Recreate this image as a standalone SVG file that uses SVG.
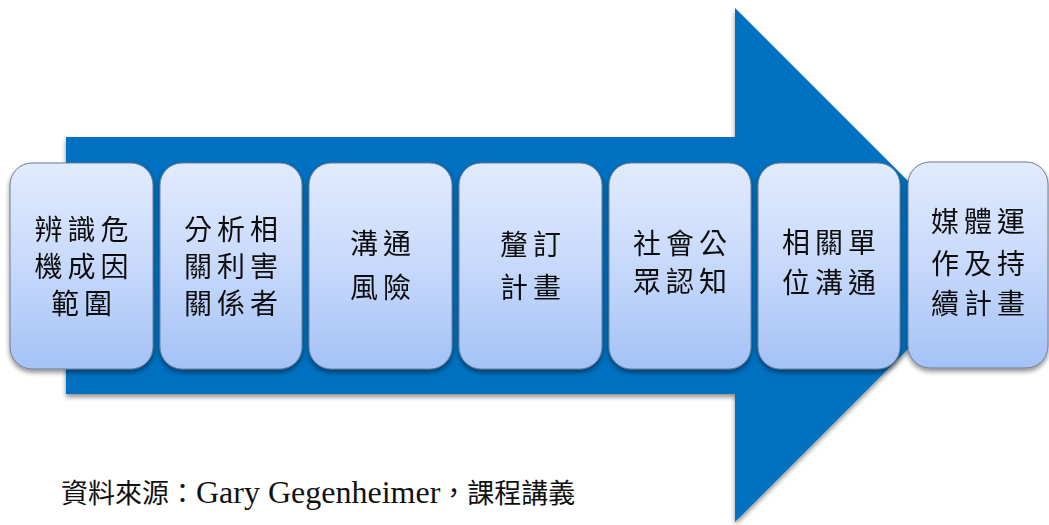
<svg xmlns="http://www.w3.org/2000/svg" width="1049" height="525" viewBox="0 0 1049 525">
<defs>
<linearGradient id="boxg" x1="0" y1="0" x2="0" y2="1">
<stop offset="0" stop-color="#e1ebfd"/>
<stop offset="0.5" stop-color="#c7d9fb"/>
<stop offset="1" stop-color="#a4c2f6"/>
</linearGradient>
<filter id="sh" x="-10%" y="-10%" width="120%" height="125%">
<feGaussianBlur in="SourceAlpha" stdDeviation="2.5"/>
<feOffset dx="0" dy="3" result="b"/>
<feComponentTransfer><feFuncA type="linear" slope="0.45"/></feComponentTransfer>
<feMerge><feMergeNode/><feMergeNode in="SourceGraphic"/></feMerge>
</filter>
</defs>
<style>
.box{fill:url(#boxg);stroke:#6f7d92;stroke-width:1;}
.lbl{font-family:"Noto Sans CJK TC","Noto Sans CJK SC",sans-serif;font-size:28px;fill:#111;text-anchor:middle;letter-spacing:5px;}
.src{font-family:"Liberation Serif","Noto Sans CJK TC",serif;font-size:27px;fill:#111;}
.lat{font-size:32px;}
</style>
<rect width="1049" height="525" fill="#ffffff"/>
<g id="arrow" filter="url(#sh)">
<polygon points="66,137 735,137 735,8 992,265 735,522 735,394 66,394" fill="#0070c0"/>
</g>
<g id="connectors"></g>
<g id="n1" filter="url(#sh)">
<rect class="box" x="10" y="163" width="143" height="206" rx="22"/>
<text class="lbl" x="84" y="240">辨識危</text>
<text class="lbl" x="84" y="277">機成因</text>
<text class="lbl" x="84" y="314">範圍</text>
</g>
<g id="n2" filter="url(#sh)">
<rect class="box" x="160" y="163" width="142" height="206" rx="22"/>
<text class="lbl" x="233.5" y="240">分析相</text>
<text class="lbl" x="233.5" y="277">關利害</text>
<text class="lbl" x="233.5" y="314">關係者</text>
</g>
<g id="n3" filter="url(#sh)">
<rect class="box" x="309" y="163" width="143" height="206" rx="22"/>
<text class="lbl" x="383" y="254">溝通</text>
<text class="lbl" x="383" y="298">風險</text>
</g>
<g id="n4" filter="url(#sh)">
<rect class="box" x="459" y="163" width="143" height="206" rx="22"/>
<text class="lbl" x="533" y="255">釐訂</text>
<text class="lbl" x="533" y="298">計畫</text>
</g>
<g id="n5" filter="url(#sh)">
<rect class="box" x="609" y="163" width="142" height="206" rx="22"/>
<text class="lbl" x="682.5" y="254">社會公</text>
<text class="lbl" x="682.5" y="292">眾認知</text>
</g>
<g id="n6" filter="url(#sh)">
<rect class="box" x="758" y="163" width="142" height="206" rx="22"/>
<text class="lbl" x="831.5" y="253">相關單</text>
<text class="lbl" x="831.5" y="293">位溝通</text>
</g>
<g id="n7" filter="url(#sh)">
<rect class="box" x="908" y="162" width="140" height="206" rx="22"/>
<text class="lbl" x="980.5" y="232">媒體運</text>
<text class="lbl" x="980.5" y="274">作及持</text>
<text class="lbl" x="980.5" y="314">續計畫</text>
</g>
<g id="source">
<text class="src" x="61" y="503">資料來源：<tspan class="lat">Gary Gegenheimer</tspan>，課程講義</text>
</g>
</svg>
